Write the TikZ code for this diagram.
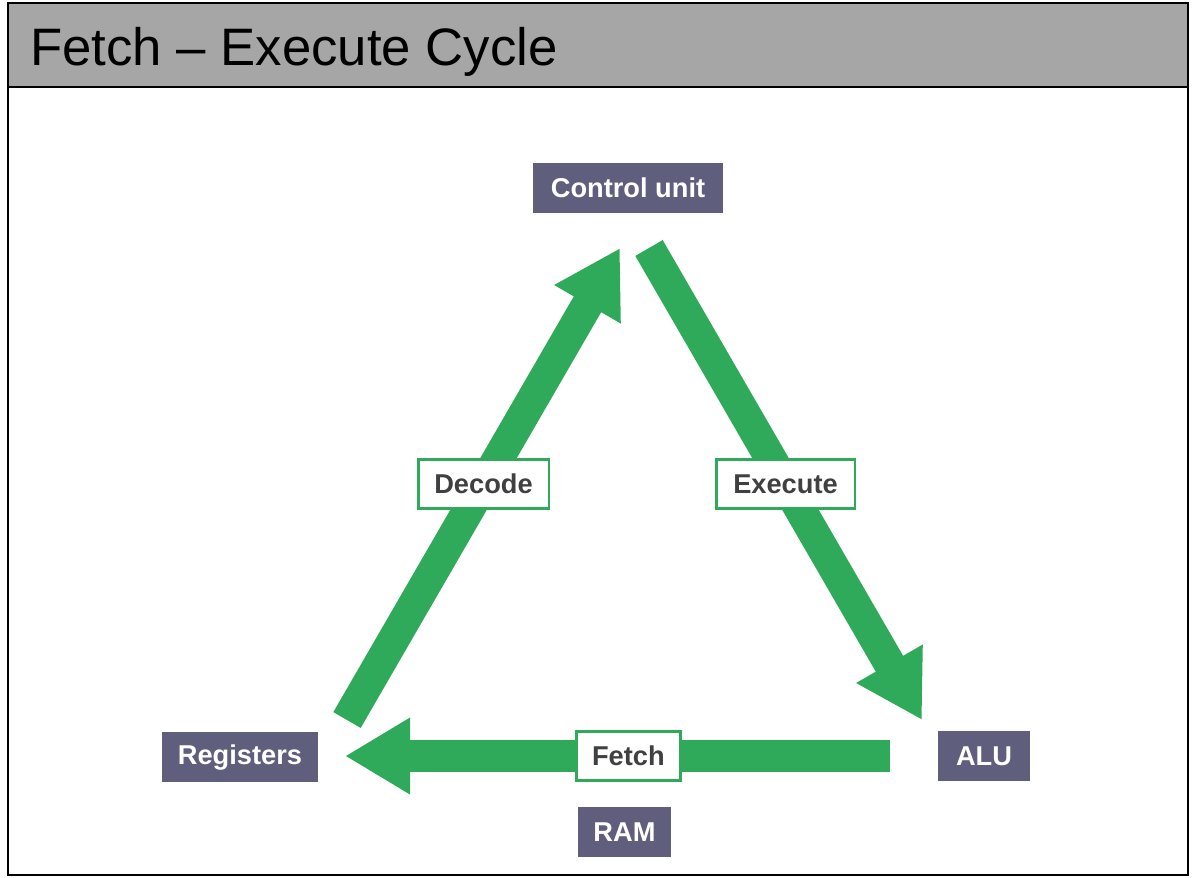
\documentclass[tikz,border=0pt]{standalone}
\usepackage{fontspec}
\setmainfont{Liberation Sans}
\usetikzlibrary{arrows.meta}
\definecolor{arrowgreen}{HTML}{2EAA5A}
\definecolor{unitgray}{HTML}{5F5F7D}
\definecolor{headgray}{HTML}{A6A6A6}
\definecolor{labeltext}{HTML}{404040}

\begin{document}
\begin{tikzpicture}[x=0.02cm,y=-0.02cm,
  unit/.style={fill=unitgray,text=white,inner sep=0pt,minimum height=1cm,font=\fontsize{15.5}{18}\selectfont\bfseries},
  stage/.style={draw=arrowgreen,line width=1.7pt,fill=white,text=labeltext,inner sep=0pt,minimum height=0.98cm,font=\fontsize{15.5}{18}\selectfont\bfseries},
  flow/.style={arrowgreen,line width=18pt,-{Triangle[length=37pt,width=41pt]}}]
\useasboundingbox (0,0) rectangle (1196,877);

\draw[line width=1.1pt,fill=headgray] (8,3) rectangle (1188,87);
\draw[line width=1.1pt] (8,87) rectangle (1188,875);
\node[anchor=base west,inner sep=0pt,font=\fontsize{30}{36}\selectfont] (title) at (30,65) {Fetch -- Execute Cycle};

\node[unit,minimum width=3.8cm] (control) at (628,188) {Control unit};
\node[unit,minimum width=3.12cm] (registers) at (240,757) {Registers};
\node[unit,minimum width=1.84cm] (alu) at (984,756) {ALU};
\node[unit,minimum width=1.86cm] (ram) at (624.5,832) {RAM};

\coordinate (decodeTail) at (347,720);
\coordinate (decodeTip) at (620,248);
\coordinate (executeTail) at (649,248);
\coordinate (executeTip) at (922,720);
\coordinate (fetchTail) at (890,756);
\coordinate (fetchTip) at (345,756);

\draw[flow] (decodeTail) -- node[stage,minimum width=2.62cm,pos=0.5] (decode) {Decode} (decodeTip);
\draw[flow] (executeTail) -- node[stage,minimum width=2.78cm,pos=0.5] (execute) {Execute} (executeTip);
\draw[flow] (fetchTail) -- node[stage,minimum width=2.08cm,pos=0.48] (fetch) {Fetch} (fetchTip);

\end{tikzpicture}
\end{document}
